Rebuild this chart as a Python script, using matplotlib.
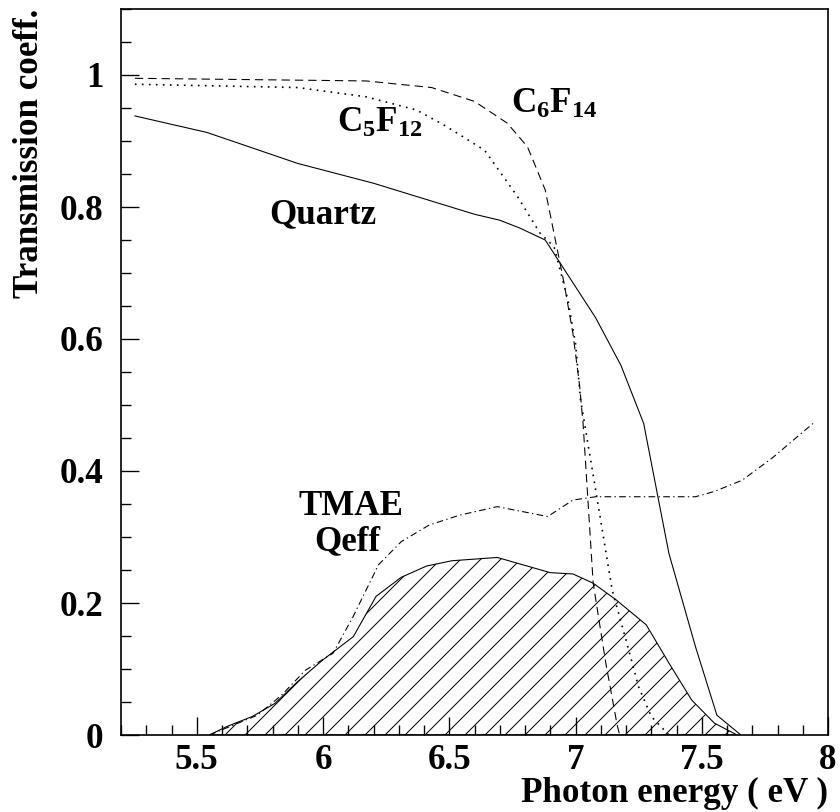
import numpy as np
import matplotlib
matplotlib.use("Agg")
import matplotlib.pyplot as plt
from matplotlib.ticker import MultipleLocator, FuncFormatter

# transmission curves
quartz_x = [5.255, 5.54, 5.9, 6.2, 6.6, 6.70, 6.78, 6.88, 7.08, 7.18, 7.27, 7.37, 7.475, 7.56, 7.655]
quartz_y = [0.938, 0.913, 0.866, 0.836, 0.789, 0.780, 0.768, 0.750, 0.632, 0.560, 0.472, 0.275, 0.134, 0.030, 0.0]

c6f14_x = [5.255, 6.17, 6.43, 6.6, 6.73, 6.81, 6.88, 6.915, 6.955, 6.99, 7.016, 7.03, 7.07, 7.12, 7.165, 7.175]
c6f14_y = [0.995, 0.991, 0.981, 0.960, 0.927, 0.891, 0.826, 0.760, 0.684, 0.608, 0.530, 0.472, 0.230, 0.109, 0.015, 0.0]

c5f12_x = [5.255, 5.9, 6.17, 6.37, 6.48, 6.64, 6.77, 6.86, 6.915, 6.97, 7.0, 7.02, 7.08, 7.145, 7.2, 7.25, 7.30, 7.37]
c5f12_y = [0.986, 0.981, 0.967, 0.947, 0.924, 0.886, 0.816, 0.760, 0.740, 0.659, 0.593, 0.508, 0.371, 0.220, 0.144, 0.073, 0.028, 0.0]

tmae_x = [5.55, 5.74, 5.835, 5.93, 6.04, 6.12, 6.22, 6.31, 6.42, 6.54, 6.69, 6.89, 6.99, 7.08, 7.475, 7.55, 7.66, 7.78, 7.95]
tmae_y = [0.0, 0.030, 0.060, 0.098, 0.124, 0.180, 0.258, 0.293, 0.318, 0.333, 0.346, 0.331, 0.356, 0.361, 0.361, 0.369, 0.386, 0.420, 0.475]

# hatched product curve
prod_x = [5.55, 5.62, 5.72, 5.81, 5.9, 6.0, 6.12, 6.21, 6.31, 6.41, 6.51, 6.69, 6.90, 6.99, 7.07, 7.16, 7.28, 7.37, 7.46, 7.55, 7.64]
prod_y = [0.0, 0.013, 0.028, 0.048, 0.081, 0.114, 0.149, 0.210, 0.239, 0.256, 0.264, 0.269, 0.246, 0.244, 0.230, 0.205, 0.167, 0.109, 0.053, 0.018, 0.0]

FONT = "Liberation Serif"
plt.rcParams["font.family"] = FONT
plt.rcParams["font.weight"] = "bold"
plt.rcParams["mathtext.fontset"] = "custom"
plt.rcParams["mathtext.rm"] = FONT + ":bold"
plt.rcParams["mathtext.it"] = FONT + ":bold"
plt.rcParams["mathtext.bf"] = FONT + ":bold"
plt.rcParams["lines.scale_dashes"] = False
plt.rcParams["hatch.linewidth"] = 0.6

# dpi 120 so the '//' hatch comes out at ~10 px spacing
DPI = 120
fig = plt.figure(figsize=(840 / DPI, 812 / DPI), dpi=DPI)
ax = fig.add_axes([121 / 840, 1 - 735 / 812, (828 - 121) / 840, (735 - 9) / 812])

lw = 0.65
ax.fill_between(prod_x, 0, prod_y, facecolor="none", edgecolor="black", hatch="//", linewidth=lw)
ax.plot(quartz_x, quartz_y, color="black", lw=lw)
ax.plot(c6f14_x, c6f14_y, color="black", lw=lw, dashes=(5, 3))
ax.plot(c5f12_x, c5f12_y, color="black", lw=1.0, dashes=(1, 3.2))
ax.plot(tmae_x, tmae_y, color="black", lw=lw, dashes=(4, 2, 0.8, 2))

fs = 21
ax.text(6.057, 0.914, r"$\mathrm{C_5F_{12}}$", fontsize=fs, ha="left", va="baseline")
ax.text(6.745, 0.942, r"$\mathrm{C_6F_{14}}$", fontsize=fs, ha="left", va="baseline")
ax.text(6.0, 0.776, "Quartz", fontsize=fs, ha="center", va="baseline", fontweight="bold")
ax.text(6.109, 0.333, "TMAE", fontsize=fs, ha="center", va="baseline", fontweight="bold")
ax.text(6.095, 0.280, "Qeff", fontsize=fs, ha="center", va="baseline", fontweight="bold")

ax.set_xlim(5.2, 8.0)
ax.set_ylim(0, 1.1)
ax.xaxis.set_major_locator(MultipleLocator(0.5))
ax.xaxis.set_minor_locator(MultipleLocator(0.1))
ax.yaxis.set_major_locator(MultipleLocator(0.2))
ax.yaxis.set_minor_locator(MultipleLocator(0.05))
fmt = FuncFormatter(lambda v, p: f"{v:g}")
ax.xaxis.set_major_formatter(fmt)
ax.yaxis.set_major_formatter(fmt)
ax.tick_params(which="both", direction="in", top=False, right=False, labelsize=fs, width=0.8)
ax.tick_params(which="major", length=11)
ax.tick_params(which="minor", length=6)
ax.tick_params(axis="x", which="major", pad=5.5)
ax.tick_params(axis="y", which="major", pad=10.5)
for lbl in ax.get_xticklabels() + ax.get_yticklabels():
    lbl.set_fontweight("bold")
for sp in ax.spines.values():
    sp.set_linewidth(1.0)

ax.set_xlabel("Photon energy ( eV )", fontsize=fs, fontweight="bold", loc="right", labelpad=0)
ax.set_ylabel("Transmission coeff.", fontsize=fs, fontweight="bold", loc="top", labelpad=8)

fig.savefig("out.png", dpi=DPI)
